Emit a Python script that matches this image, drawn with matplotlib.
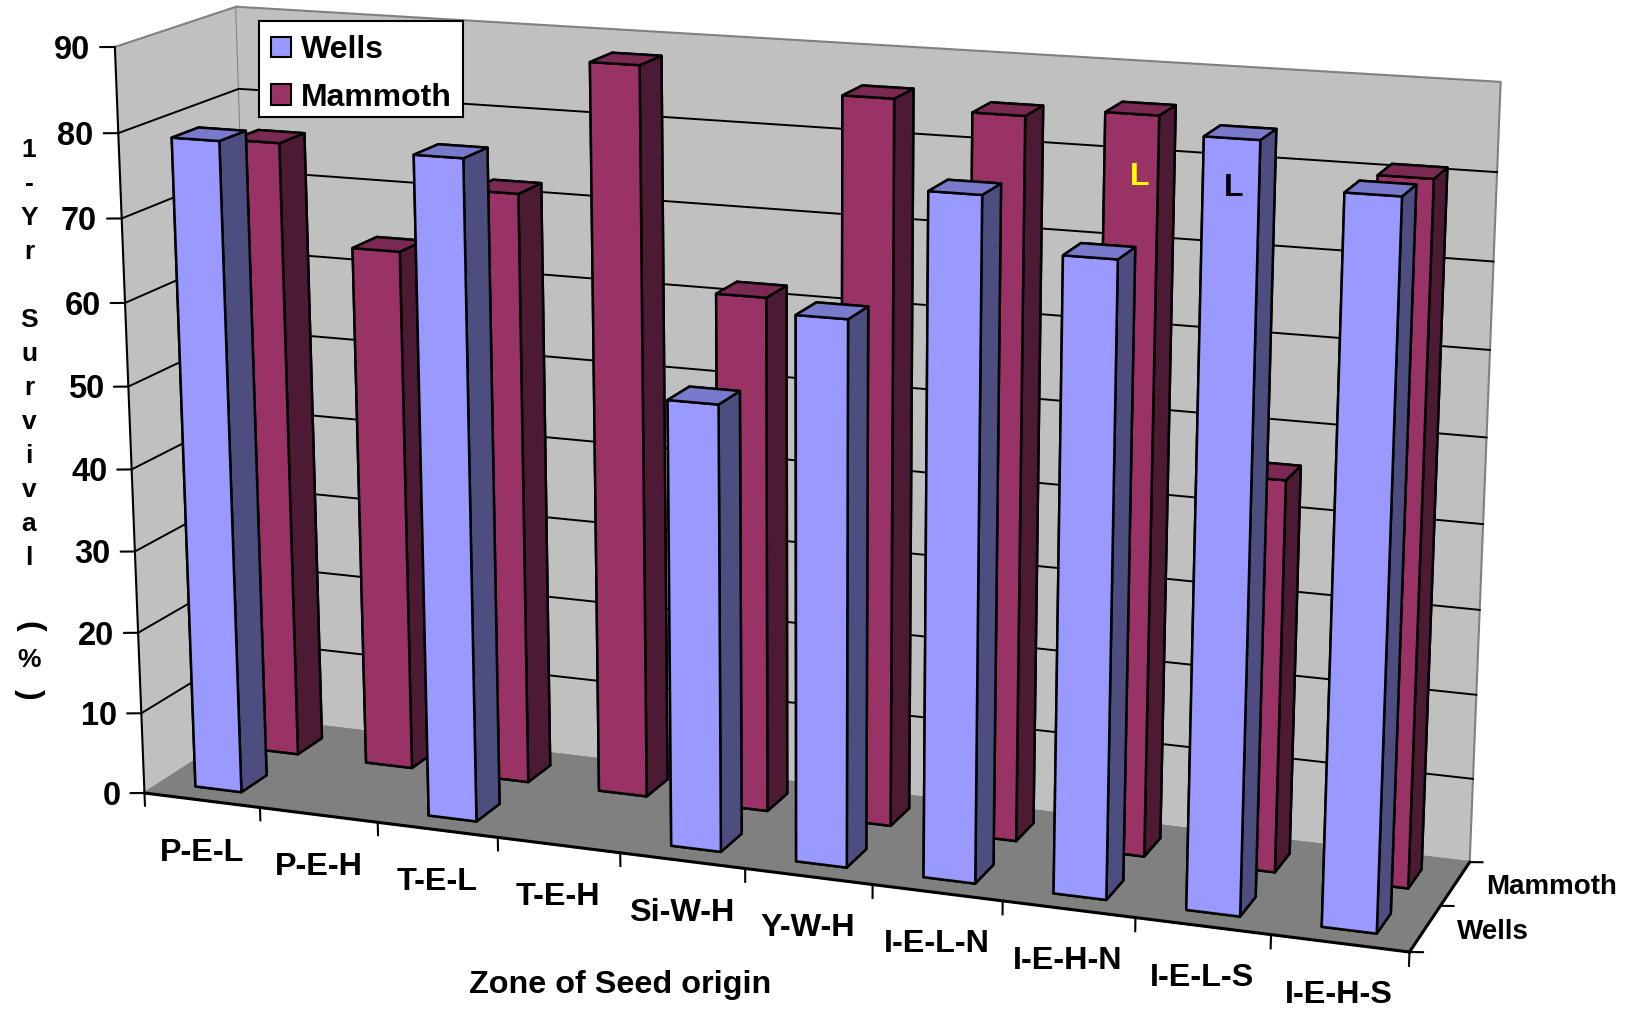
import numpy as np
import matplotlib
matplotlib.use('Agg')
import matplotlib.pyplot as plt
from matplotlib.patches import Patch

plt.rcParams['font.family'] = ['Liberation Sans', 'DejaVu Sans']
plt.rcParams['font.weight'] = 'bold'

zones = ['P-E-L', 'P-E-H', 'T-E-L', 'T-E-H', 'Si-W-H', 'Y-W-H',
         'I-E-L-N', 'I-E-H-N', 'I-E-L-S', 'I-E-H-S']
series = ['Wells', 'Mammoth']
wells = [79, np.nan, 79, np.nan, 53, 64, 79, 73, 87, 82]
mammoth = [76, 64, 72, 88, 62, 86, 85, 86, 46, 81]
z_ticks = [0, 10, 20, 30, 40, 50, 60, 70, 80, 90]
ylabel_chars = list('1-Yr Survival (%)')

W, H = 1626, 1009
fig = plt.figure(figsize=(W / 100, H / 100), dpi=100, facecolor='white')
ax = fig.add_axes([0, 0, 1, 1], projection='3d', computed_zorder=False)
ax.apply_aspect = lambda position=None: None
ax.patch.set_visible(False)
ax.set_xlim(0, 10, view_margin=0)
ax.set_ylim(0, 2, view_margin=0)
ax.set_zlim(0, 90, view_margin=0)

# camera: fit a projective matrix to where the box corners sit in the picture
cube = np.array([[0, 0, 0], [1, 0, 0], [1, 1, 0], [0, 1, 0],
                 [0, 0, 1], [1, 0, 1], [1, 1, 1], [0, 1, 1]], float)
img = np.array([[144, 793], [1409, 953], [1470, 861], [260, 719],
                [116, 46], [1439, 131], [1501, 82], [235, 7.5]], float)
rows = []
for (a, b, c), (u, v) in zip(cube, img):
    u, v = u / 1000, (H - v) / 1000
    rows.append([a, b, c, 1, 0, 0, 0, 0, -u * a, -u * b, -u * c, -u])
    rows.append([0, 0, 0, 0, a, b, c, 1, -v * a, -v * b, -v * c, -v])
P = np.linalg.svd(np.array(rows))[2][-1].reshape(3, 4)
P = P @ np.diag([1 / 10, 1 / 2, 1 / 90, 1])
P[:2] *= 1000
P = P / (P[2] @ [5, 1, 45, 1])


def get_proj():
    C = ax.transData.inverted().get_matrix() @ P
    # depth row gives -1/w: mplot3d blanks lines with positive depth
    return np.array([C[0], C[1], [0, 0, 0, -1], P[2]])


def label_at(x, y, z, s, dx=0, dy=0, **kw):
    v = P @ [x, y, z, 1]
    fig.text((v[0] / v[2] + dx) / W, (v[1] / v[2] + dy) / H, s, **kw)


ax.get_proj = get_proj

for axis in (ax.xaxis, ax.yaxis, ax.zaxis):
    axis.set_ticks([])
    axis.line.set_color('none')
    axis.set_pane_color('#C0C0C0')
    axis.pane.set_edgecolor('#808080')
    axis.pane.set_linewidth(1.5)
ax.zaxis.set_pane_color('#808080')
ax.grid(False)

# grid lines on the two walls
for z in z_ticks:
    if 0 < z < 90:
        ax.plot([0, 0, 10], [0, 2, 2], [z, z, z], color='k', lw=1.4, zorder=1)

# axes
ax.plot([0, 0], [0, 0], [0, 90], color='k', lw=1.5, zorder=2)
ax.plot([0, 10], [0, 0], [0, 0], color='k', lw=2.2, zorder=2)
ax.plot([10, 10], [0, 2], [0, 0], color='k', lw=2.2, zorder=2)
for z in z_ticks:
    ax.plot([0, -0.1], [0, -0.04], [z, z], color='k', lw=1.5, zorder=2)
    label_at(-0.17, -0.07, z, str(z), dy=-3, ha='right', va='center', fontsize=23.5)
for i in range(11):
    ax.plot([i, i], [0, 0], [0, -1.6], color='k', lw=1.5, zorder=2)
for i in range(10):
    label_at(i + 0.5, 0, -6.6 + 0.07 * i, zones[i], dx=-2 + 0.3 * i, ha='center', va='center', fontsize=23.3)
for j in range(3):
    ax.plot([10, 10.09], [j, j + 0.03], [0, 0], color='k', lw=1.5, zorder=2)
for j in range(2):
    label_at(10.22, j + 0.5, 0, series[j], dx=1, ha='left', va='center', fontsize=20)

# bars, back row first, each row left to right
styles = [(mammoth, 1.28, ['#993366', '#7A2952', '#4D1A33']),
          (wells, 0.28, ['#9999FF', '#7A7ACC', '#4D4D80'])]
zo = 10
for vals, y0, (front, top, side) in styles:
    for i, v in enumerate(vals):
        if np.isnan(v):
            continue
        # faces come as -z, +z, -y, +y, -x, +x
        ax.bar3d(i + 0.3, y0, 0, 0.4, 0.44, v,
                 color=[front, top, front, front, side, side], shade=False,
                 edgecolor='k', linewidth=1.8, zorder=zo)
        zo += 1

# legend sits in its own small box over the plot
lax = fig.add_axes([259 / W, 1 - 117 / H, 204 / W, 96 / H], zorder=5)
lax.set_xticks([])
lax.set_yticks([])
for sp in lax.spines.values():
    sp.set_linewidth(1.5)
handles = [Patch(facecolor='#9999FF', edgecolor='k', lw=1.5, label=series[0]),
           Patch(facecolor='#993366', edgecolor='k', lw=1.5, label=series[1])]
lax.legend(handles=handles, loc='center left', bbox_to_anchor=(0.06, 0.447), borderaxespad=0,
           borderpad=0, frameon=False, fontsize=23, handlelength=0.62, handleheight=0.62,
           handletextpad=0.31, labelspacing=0.55)

# stacked axis title
for i, ch in enumerate(ylabel_chars):
    if ch == ' ':
        continue
    rot = -90 if ch in '()' else 0
    fig.text(29 / W, 1 - (150 + 34 * i) / H, ch, ha='center', va='center',
             fontsize=23 if ch in '()' else 19, rotation=rot)
fig.text(620 / W, 1 - 985 / H, 'Zone of Seed origin', ha='center', va='center', fontsize=23.3)
fig.text(1140 / W, 1 - 177 / H, 'L', color='#FFFF00', ha='center', va='center', fontsize=23)
fig.text(1234 / W, 1 - 188 / H, 'L', color='k', ha='center', va='center', fontsize=23)

fig.savefig('out.png', dpi=100)
